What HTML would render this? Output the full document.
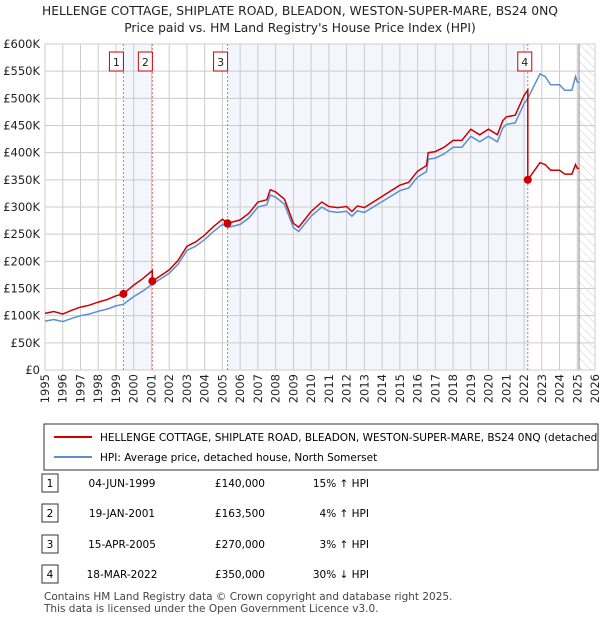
<!DOCTYPE html>
<html><head><meta charset="utf-8"><style>
body{margin:0;background:#fff;font-family:"DejaVu Sans","Liberation Sans",sans-serif;}
svg text{font-family:"DejaVu Sans","Liberation Sans",sans-serif;}
</style></head><body>
<svg id="c" width="600" height="620" xmlns="http://www.w3.org/2000/svg">
<defs><pattern id="hatch" width="6" height="6" patternUnits="userSpaceOnUse" patternTransform="rotate(-45)"><line x1="0" y1="0" x2="0" y2="6" stroke="#ccc" stroke-width="1"/></pattern></defs>
<text x="300" y="15" text-anchor="middle" font-size="12.3" fill="#222">HELLENGE COTTAGE, SHIPLATE ROAD, BLEADON, WESTON-SUPER-MARE, BS24 0NQ</text>
<text x="300" y="32" text-anchor="middle" font-size="12.3" fill="#222">Price paid vs. HM Land Registry's House Price Index (HPI)</text>
<g id="plot"></g>
<g>
<rect x="44" y="424" width="554" height="46" fill="#fff" stroke="#333"/>
<line x1="54" y1="437" x2="92" y2="437" stroke="#c00" stroke-width="2"/>
<text x="100" y="441" font-size="10.5" fill="#000">HELLENGE COTTAGE, SHIPLATE ROAD, BLEADON, WESTON-SUPER-MARE, BS24 0NQ (detached</text>
<line x1="54" y1="457" x2="92" y2="457" stroke="#5b8fd4" stroke-width="2"/>
<text x="100" y="461" font-size="10.5" fill="#000">HPI: Average price, detached house, North Somerset</text>
</g>
<g id="table"></g>
<text x="44" y="600" font-size="10.5" fill="#444">Contains HM Land Registry data © Crown copyright and database right 2025.</text>
<text x="44" y="612" font-size="10.5" fill="#444">This data is licensed under the Open Government Licence v3.0.</text>
</svg>
<script>
const hpiYears=[1995,1995.5,1996,1996.5,1997,1997.5,1998,1998.5,1999,1999.42,2000,2000.5,2001,2001.05,2002,2002.5,2003,2003.5,2004,2004.5,2005,2005.29,2006,2006.5,2007,2007.5,2007.7,2008,2008.5,2009,2009.3,2010,2010.6,2011,2011.5,2012,2012.3,2012.6,2013,2014,2015,2015.5,2016,2016.5,2016.6,2017,2017.5,2018,2018.5,2019,2019.5,2020,2020.5,2020.8,2021,2021.5,2022,2022.21,2022.9,2023.2,2023.5,2024,2024.3,2024.7,2024.9,2025,2025.1];
const hpiValues=[90,93,89,95,100,103,108,112,118,121,135,145,157,158,178,195,220,228,240,255,268,262,268,280,300,304,322,318,305,262,255,283,300,292,290,292,283,293,290,310,330,335,355,365,388,390,398,410,410,430,420,430,420,445,452,455,490,500,545,540,525,525,515,515,540,530,530];
const saleYears=[1999.42,2001.05,2005.29,2022.21];
const salePrices=[140000,163500,270000,350000];
const saleLabels=["1","2","3","4"];
const saleDates=["04-JUN-1999","19-JAN-2001","15-APR-2005","18-MAR-2022"];
const salePriceText=["£140,000","£163,500","£270,000","£350,000"];
const saleHpiText=["15% ↑ HPI","4% ↑ HPI","3% ↑ HPI","30% ↓ HPI"];
const yTicks=[0,50,100,150,200,250,300,350,400,450,500,550,600];
const yTickLabels=["£0","£50K","£100K","£150K","£200K","£250K","£300K","£350K","£400K","£450K","£500K","£550K","£600K"];
const xTicks=[1995,1996,1997,1998,1999,2000,2001,2002,2003,2004,2005,2006,2007,2008,2009,2010,2011,2012,2013,2014,2015,2016,2017,2018,2019,2020,2021,2022,2023,2024,2025,2026];

const X0=45,X1=595,Y0=370,Y1=44;
const x=t=>X0+(t-1995)/(2026-1995)*(X1-X0);
const y=v=>Y0-v/600*(Y0-Y1);
const NS="http://www.w3.org/2000/svg";
const plot=document.getElementById('plot');
function mk(tag,attrs,parent){const e=document.createElementNS(NS,tag);for(const k in attrs)e.setAttribute(k,attrs[k]);(parent||plot).appendChild(e);return e;}
function hpiAt(t){for(let i=1;i<hpiYears.length;i++){if(t<=hpiYears[i]){const f=(t-hpiYears[i-1])/(hpiYears[i]-hpiYears[i-1]);return hpiValues[i-1]+f*(hpiValues[i]-hpiValues[i-1]);}}return hpiValues[hpiValues.length-1];}

mk('rect',{x:X0,y:Y1,width:X1-X0,height:Y0-Y1,fill:'#fff'});
let r=mk('rect',{x:x(saleYears[0]),y:Y1,width:x(saleYears[1])-x(saleYears[0]),height:Y0-Y1,fill:'#f3f6fd'});

r=mk('rect',{x:x(saleYears[2]),y:Y1,width:x(saleYears[3])-x(saleYears[2]),height:Y0-Y1,fill:'#f3f6fd'});

r=mk('rect',{x:x(2025.1),y:Y1,width:X1-x(2025.1),height:Y0-Y1,fill:'url(#hatch)'});

yTicks.forEach((v,i)=>{
  mk('line',{x1:X0,x2:X1,y1:y(v),y2:y(v),stroke:'#ccc','stroke-width':1});
  const t=mk('text',{x:40,y:y(v)+4,'text-anchor':'end','font-size':11.5,fill:'#222'});t.textContent=yTickLabels[i];
  
});
xTicks.forEach(yr=>{
  mk('line',{x1:x(yr),x2:x(yr),y1:Y1,y2:Y0,stroke:'#ccc','stroke-width':1});
  const t=mk('text',{x:0,y:0,'text-anchor':'end','font-size':11.5,fill:'#222',transform:`translate(${x(yr)+4},374) rotate(-90)`});t.textContent=yr;
  
});
mk('line',{x1:x(2025.1),x2:x(2025.1),y1:Y1,y2:Y0,stroke:'#888','stroke-width':1});
mk('rect',{x:X0,y:Y1,width:X1-X0,height:Y0-Y1,fill:'none',stroke:'#ccc'});
saleYears.forEach(s=>mk('line',{x1:x(s),x2:x(s),y1:Y1,y2:Y0,stroke:'#f66','stroke-width':1,'stroke-dasharray':'2,2'}));
let d=hpiYears.map((t,i)=>(i?'L':'M')+x(t).toFixed(1)+','+y(hpiValues[i]).toFixed(1)).join('');
let p=mk('path',{d,fill:'none',stroke:'#5b8fd4','stroke-width':1.5});

function factorIdx(t){let k=0;for(let i=0;i<saleYears.length;i++)if(t>=saleYears[i])k=i;return k;}
let pts=[];
hpiYears.forEach((t,i)=>{
  const k=factorIdx(t);
  for(let j=0;j<saleYears.length;j++){
    if(i>0&&hpiYears[i-1]<saleYears[j]&&t>=saleYears[j]){
      const kp=j===0?0:j-1;const fPrev=salePrices[kp]/1000/hpiAt(saleYears[kp]);
      pts.push([saleYears[j],hpiAt(saleYears[j])*fPrev]);pts.push([saleYears[j],salePrices[j]/1000]);
    }
  }
  const f=salePrices[k]/1000/hpiAt(saleYears[k]);
  pts.push([t,hpiValues[i]*f]);
});
d=pts.map((q,i)=>(i?'L':'M')+x(q[0]).toFixed(1)+','+y(q[1]).toFixed(1)).join('');
p=mk('path',{d,fill:'none',stroke:'#c00','stroke-width':1.5});

saleYears.forEach((s,i)=>{
  const c=mk('circle',{cx:x(s),cy:y(salePrices[i]/1000),r:4,fill:'#c00'});
  
  const g=mk('g',{});
  const bxx=i===3?x(s)-10:x(s)-20;
  mk('rect',{x:bxx+(i===3?0:6),y:52,width:14,height:19,fill:'#fff',stroke:'#c00'},g);
  const t=mk('text',{x:bxx+(i===3?7:13),y:66,'text-anchor':'middle','font-size':11,fill:'#222'},g);t.textContent=saleLabels[i];
});
const tb=document.getElementById('table');
const rowsY=[483,513,544,574];
saleLabels.forEach((l,i)=>{
  const g=mk('g',{},tb);
  mk('rect',{x:42,y:rowsY[i]-9,width:16,height:18,fill:'#fff',stroke:'#333'},g);
  let t=mk('text',{x:50,y:rowsY[i]+4,'text-anchor':'middle','font-size':10.5,fill:'#000'},g);t.textContent=l;
  t=mk('text',{x:122,y:rowsY[i]+4,'text-anchor':'middle','font-size':10.5,fill:'#000'},g);t.textContent=saleDates[i];
  t=mk('text',{x:265,y:rowsY[i]+4,'text-anchor':'end','font-size':10.5,fill:'#000'},g);t.textContent=salePriceText[i];
  t=mk('text',{x:369,y:rowsY[i]+4,'text-anchor':'end','font-size':10.5,fill:'#000'},g);t.textContent=saleHpiText[i];
});
</script>
</body></html>
